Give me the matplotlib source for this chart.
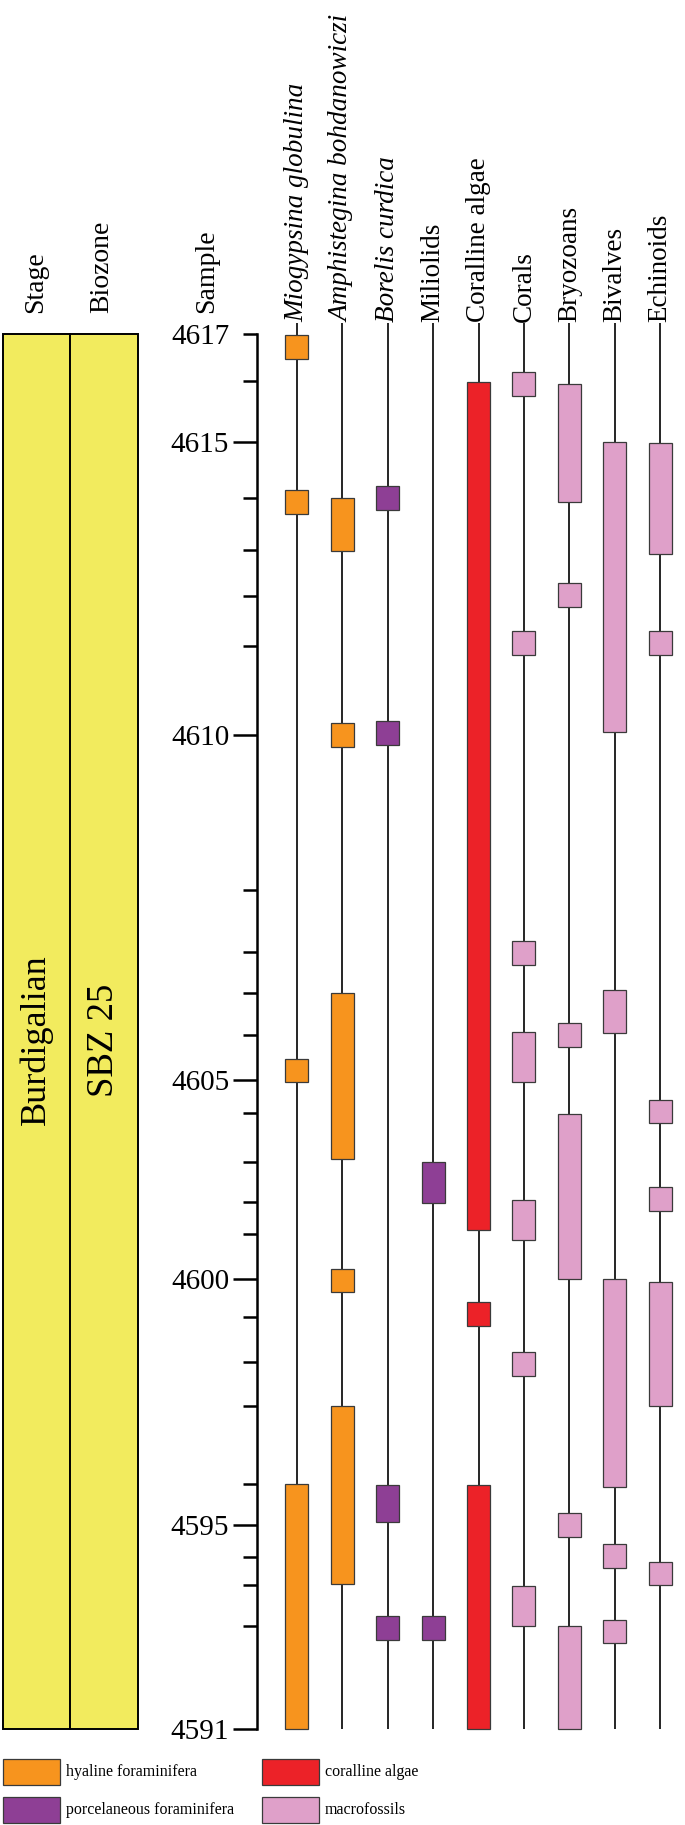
import matplotlib.pyplot as plt
from matplotlib.patches import Rectangle

plt.rcParams['font.family'] = ['Liberation Serif', 'DejaVu Serif']

# Samples and their stratigraphic height in the section (m above 4591)
samples = list(range(4591, 4618))
sample_height = [0.0, 10.3, 14.4, 17.2, 20.4, 24.5, 32.3, 36.7, 41.2, 45.0,
                 49.5, 52.7, 56.7, 61.6, 64.9, 69.4, 73.6, 77.7, 83.9, 99.4,
                 108.3, 113.3, 117.9, 123.1, 128.7, 134.8, 139.5]
labelled_samples = [4617, 4615, 4610, 4605, 4600, 4595, 4591]

# Columns of the range chart
taxa = ['Miogypsina globulina', 'Amphistegina bohdanowiczi', 'Borelis curdica',
        'Miliolids', 'Coralline algae', 'Corals', 'Bryozoans', 'Bivalves', 'Echinoids']
italic = [True, True, True, False, False, False, False, False, False]
group = ['hyaline', 'hyaline', 'porcelaneous', 'porcelaneous', 'algae',
         'macro', 'macro', 'macro', 'macro']

# Occurrence intervals (top, base) in m
occurrences = [
    [(139.4, 137.0), (123.9, 121.5), (67.0, 64.7), (24.5, 0.0)],
    [(123.1, 117.8), (100.6, 98.2), (73.6, 57.0), (46.0, 43.7), (32.3, 14.5)],
    [(124.3, 121.9), (100.8, 98.4), (24.4, 20.7), (11.3, 8.9)],
    [(56.7, 52.6), (11.3, 8.9)],
    [(134.7, 49.9), (42.7, 40.3), (24.4, 0.0)],
    [(135.7, 133.3), (109.8, 107.4), (78.8, 76.4), (69.7, 64.7), (52.9, 48.9),
     (37.7, 35.3), (14.3, 10.3)],
    [(134.5, 122.7), (114.6, 112.2), (70.6, 68.2), (61.5, 45.0), (21.6, 19.2),
     (10.3, 0.0)],
    [(128.7, 99.7), (73.9, 69.6), (45.0, 24.2), (18.5, 16.1), (10.9, 8.6)],
    [(128.6, 117.5), (109.8, 107.4), (62.9, 60.6), (54.2, 51.8), (44.7, 32.3),
     (16.7, 14.4)],
]

stage = 'Burdigalian'
biozone = 'SBZ 25'

colors = {'hyaline': '#F7941E', 'porcelaneous': '#8E3F95',
          'algae': '#EC2228', 'macro': '#DFA0C9'}
legend_labels = {'hyaline': 'hyaline foraminifera',
                 'porcelaneous': 'porcelaneous foraminifera',
                 'algae': 'coralline algae', 'macro': 'macrofossils'}


# pixel row -> height (layout helper)
def py(y):
    return (1729.3 - y) / 10


fig = plt.figure(figsize=(6.85, 18.25), dpi=100)
ax = fig.add_axes([0, 0, 1, 1])
ax.set_xlim(0, 685)
ax.set_ylim(py(1825), py(0))
ax.axis('off')

top = max(sample_height)
col_x = [297 + 45.4 * i for i in range(len(taxa))]

# column lines and occurrence boxes
ax.vlines(col_x, 0, top + 1.1, color='black', lw=1.2, zorder=1)
for x, occ, g in zip(col_x, occurrences, group):
    for t, b in occ:
        ax.bar(x, t - b, bottom=b, width=23, color=colors[g],
               edgecolor='#3a3a3a', lw=0.9, zorder=3)

# column headers
for x, name, it in zip(col_x, taxa, italic):
    ax.text(x, py(322), name, rotation=90, ha='center', va='bottom',
            fontsize=19.5, style='italic' if it else 'normal')
for x, name in [(36, 'Stage'), (102, 'Biozone'), (207, 'Sample')]:
    ax.text(x, py(313), name, rotation=90, ha='center', va='bottom', fontsize=20)

# stage and biozone boxes
for x0, x1, txt, fs in [(3, 70, stage, 26), (70, 138, biozone, 26.5)]:
    ax.add_patch(Rectangle((x0, 0), x1 - x0, top, facecolor='#F2EB5E',
                           edgecolor='black', lw=1.4, zorder=2))
    ax.text((x0 + x1) / 2, py(1040), txt, rotation=90, ha='center',
            va='center', fontsize=fs)

# sample axis
axs = fig.add_axes([257 / 685, 0, 1e-6, 1])
axs.set_ylim(ax.get_ylim())
axs.set_xticks([])
for s in ['top', 'right', 'bottom']:
    axs.spines[s].set_visible(False)
axs.spines['left'].set_linewidth(1.8)
axs.spines['left'].set_bounds(0, top)
axs.patch.set_visible(False)
major = [sample_height[samples.index(s)] for s in labelled_samples]
minor = [h for s, h in zip(samples, sample_height) if s not in labelled_samples]
axs.set_yticks(major)
axs.set_yticklabels([str(s) for s in labelled_samples])
axs.set_yticks(minor, minor=True)
axs.tick_params(which='major', direction='out', length=17, width=1.8,
                pad=3, labelsize=21)
axs.tick_params(which='minor', direction='out', length=10, width=1.8)
axs.yaxis.get_major_ticks()[0].tick1line.set_markersize(10)

# legend
leg = [('hyaline', 3, 1759), ('porcelaneous', 3, 1797),
       ('algae', 262, 1759), ('macro', 262, 1797)]
for g, x0, y0 in leg:
    ax.add_patch(Rectangle((x0, py(y0 + 26)), 57, 2.6, facecolor=colors[g],
                           edgecolor='#3a3a3a', lw=0.9))
    ax.text(x0 + 63, py(y0 + 13), legend_labels[g], ha='left', va='center',
            fontsize=11.5)

fig.savefig('out.png', dpi=100)
